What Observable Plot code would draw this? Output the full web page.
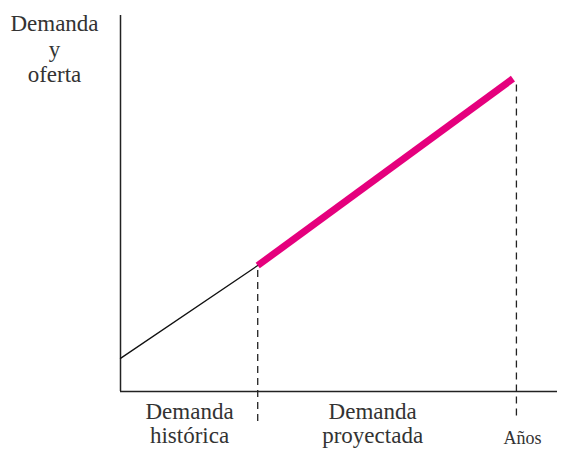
<!DOCTYPE html>
<html>
<head>
<meta charset="utf-8">
<script src="https://cdn.jsdelivr.net/npm/d3@7"></script>
<script src="https://cdn.jsdelivr.net/npm/@observablehq/plot@0.6"></script>
<style>
  html, body { margin: 0; padding: 0; background: #fff; }
  #chart svg { display: block; }
</style>
</head>
<body>
<div id="chart"></div>
<script>
// Abstract units: x = time (0..100), y = demand/supply (0..100)
const historicalX = [0, 31.4];
const historicalY = [8.8, 33.5];
const projectedX = [31.4, 89.8];
const projectedY = [33.5, 83.2];
const dividerX = [31.4, 90.6];
const dividerTop = [32.5, 82.5];
const dividerBottom = [-8, -6.5];
const periodLabels = ["Demanda\nhistórica", "Demanda\nproyectada"];
const periodLabelX = [15.8, 57.7];
const yAxisLabel = "Demanda\ny\noferta";
const xAxisLabel = "Años";

const hist = historicalX.map((x, i) => ({x, y: historicalY[i]}));
const proj = projectedX.map((x, i) => ({x, y: projectedY[i]}));
const dividers = dividerX.map((x, i) => ({x, y1: dividerBottom[i], y2: dividerTop[i]}));
const periods = periodLabels.map((t, i) => ({t, x: periodLabelX[i]}));

const font = "'Liberation Serif', 'DejaVu Serif', serif";

const chart = Plot.plot({
  width: 571,
  height: 449,
  marginLeft: 120,
  marginRight: 14,
  marginTop: 15,
  marginBottom: 58,
  x: {domain: [0, 100], axis: null},
  y: {domain: [0, 100], axis: null},
  style: {fontFamily: font, color: "#222", background: "#fff", overflow: "visible"},
  marks: [
    Plot.ruleX([0], {y1: 0, y2: 100, stroke: "#222", strokeWidth: 1.5}),
    Plot.ruleY([0], {x1: 0, x2: 100, stroke: "#222", strokeWidth: 1.5}),
    Plot.ruleX(dividers, {x: "x", y1: "y1", y2: "y2", stroke: "#222", strokeWidth: 1.3, strokeDasharray: "7,5", clip: false}),
    Plot.line(hist, {x: "x", y: "y", stroke: "#111", strokeWidth: 1.3}),
    Plot.line(proj, {x: "x", y: "y", stroke: "#e5007d", strokeWidth: 7, strokeLinecap: "butt"}),
    Plot.text(periods, {x: "x", y: -8.4, text: "t", fontSize: 23, lineHeight: 1.08, fill: "#333", clip: false}),
    Plot.text([xAxisLabel], {x: 92, y: -12.3, text: d => d, fontSize: 18, fill: "#333", clip: false}),
    Plot.text([yAxisLabel], {x: -15.1, y: 91.2, text: d => d, fontSize: 23, lineHeight: 1.1, fill: "#333", clip: false})
  ]
});
document.getElementById("chart").appendChild(chart);
</script>
</body>
</html>
